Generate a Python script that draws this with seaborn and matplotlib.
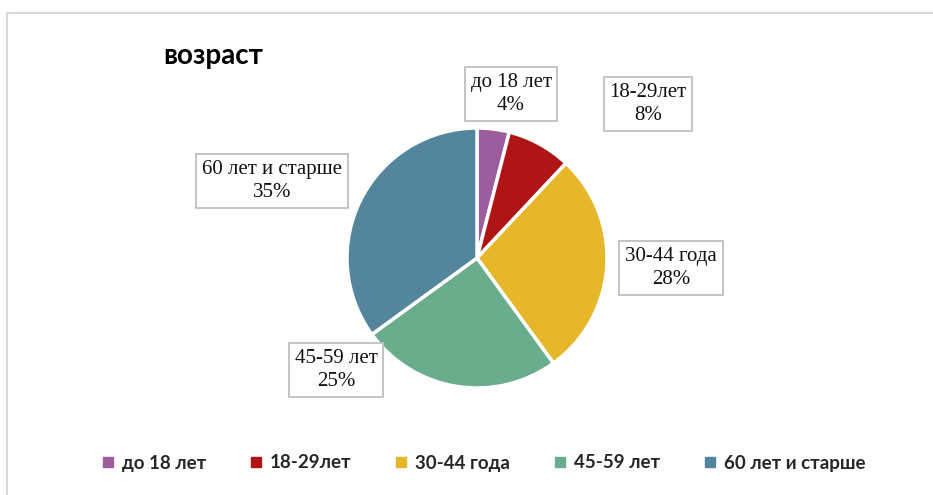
import matplotlib
matplotlib.use("Agg")
import matplotlib.pyplot as plt
import seaborn as sns
from matplotlib.lines import Line2D
from matplotlib.patches import Rectangle

categories = ["до 18 лет", "18-29лет", "30-44 года", "45-59 лет", "60 лет и старше"]
values = [4, 8, 28, 25, 35]
colors = ["#9c5d9d", "#b01515", "#e5b729", "#69ad8d", "#53869c"]
title = "возраст"

sns.set_theme(style="white")
plt.rcParams["font.family"] = ["Liberation Serif", "DejaVu Sans"]

W, H = 933, 495
fig = plt.figure(figsize=(W / 100, H / 100), dpi=100)

def fx(px):
    return px / W

def fy(py):
    return 1 - py / H

# chart frame
fig.patches.append(Rectangle((fx(7.5), fy(600)), fx(1000), fy(12.5) - fy(600),
                             transform=fig.transFigure, fill=False,
                             edgecolor="#d9d9d9", linewidth=1.5))

cx, cy, r = 477, 258, 130
ax = fig.add_axes([fx(cx - r), fy(cy + r), fx(2 * r), (2 * r) / H])
wedges, _ = ax.pie(values, colors=colors, startangle=90, counterclock=False,
                   wedgeprops=dict(edgecolor="white", linewidth=2.5))
ax.set_xlim(-1, 1)
ax.set_ylim(-1, 1)
ax.set_aspect("equal")
ax.axis("off")

label_pos = [(511, 94), (648, 104), (671, 268), (336, 370), (272, 181)]
for cat, v, (px, py) in zip(categories, values, label_pos):
    fig.text(fx(px), fy(py), f"{cat}\n{v}%", ha="center", va="center",
             fontsize=15, color="#111111", linespacing=1.3,
             family=["Liberation Serif", "DejaVu Serif"],
             bbox=dict(boxstyle="square,pad=0.28", fc="white", ec="#bfbfbf", lw=1.3))

fig.text(fx(163), fy(56), title, ha="left", va="center", fontsize=20,
         fontweight="bold", family=["Lato", "DejaVu Sans"], color="black")

handles = [Line2D([0], [0], marker="s", linestyle="none", markersize=7,
                  markerfacecolor=c, markeredgecolor=c) for c in colors]
fig.legend(handles, categories, loc="center", bbox_to_anchor=(fx(483), fy(463)),
           ncol=5, frameon=False, handlelength=0.8, handletextpad=0.35,
           columnspacing=2.25,
           prop=dict(family=["Lato", "DejaVu Sans"], weight="bold", size=13.5))

fig.savefig("out.png", dpi=100, facecolor="white")
